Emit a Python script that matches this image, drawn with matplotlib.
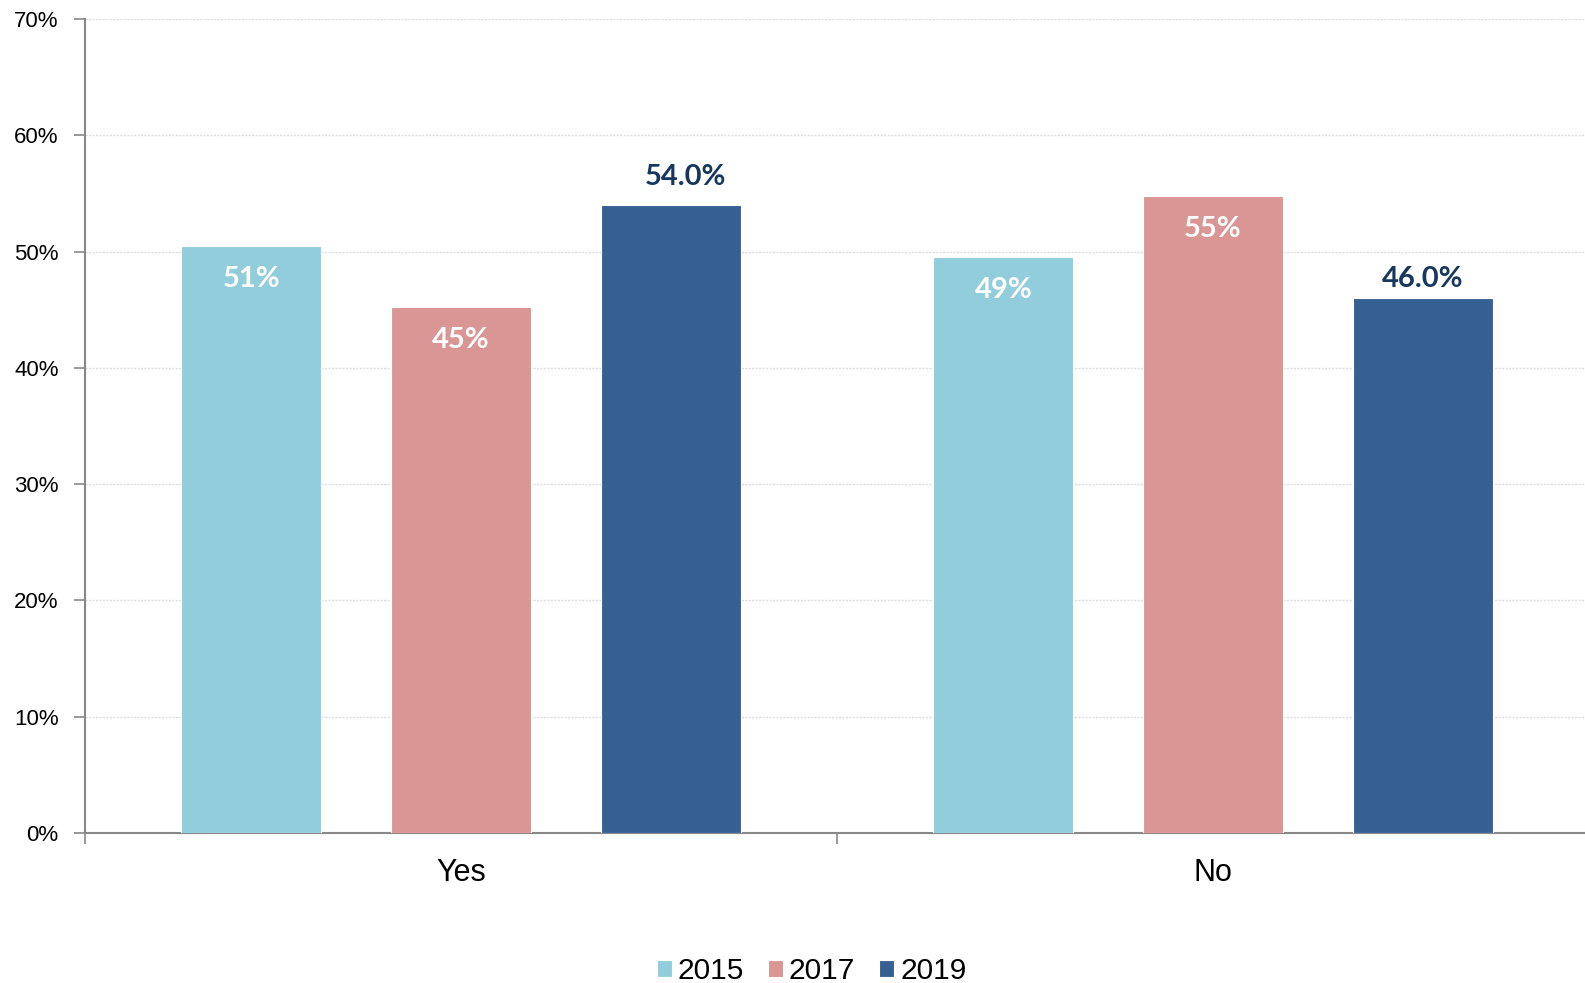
import numpy as np
import matplotlib
matplotlib.use('Agg')
import matplotlib.pyplot as plt
from matplotlib.ticker import PercentFormatter

# 数据
categories = ['Yes', 'No']
years = ['2015', '2017', '2019']
v2015 = [50.5, 49.5]
v2017 = [45.2, 54.8]
v2019 = [54.0, 46.0]
labels2015 = ['51%', '49%']
labels2017 = ['45%', '55%']
labels2019 = ['54.0%', '46.0%']

colors = ['#92CDDC', '#DA9694', '#366092']

plt.rcParams['font.family'] = ['Liberation Sans', 'DejaVu Sans']

fig = plt.figure(figsize=(15.85, 9.83), dpi=100)
ax = fig.add_axes([85 / 1585, 1 - 833 / 983, 1504 / 1585, (833 - 19) / 983])

x = np.arange(len(categories))
w = 0.186
step = 0.2787
series = [v2015, v2017, v2019]
texts = [labels2015, labels2017, labels2019]
# 2019 标签偏移（像素）
off2019 = [(15, 28), (0, 19)]
for i, (vals, labs) in enumerate(zip(series, texts)):
    pos = x + (i - 1) * step
    bars = ax.bar(pos, vals, width=w, color=colors[i], edgecolor='white',
                  linewidth=0.8, label=years[i], zorder=3)
    for j, (b, lab) in enumerate(zip(bars, labs)):
        cx = b.get_x() + b.get_width() / 2
        h = b.get_height()
        if i == 2:
            ax.annotate(lab, (cx, h), xytext=off2019[j], textcoords='offset pixels',
                        ha='center', va='center', fontsize=21, fontweight='bold',
                        color='#17375E', family='Lato')
        else:
            ax.annotate(lab, (cx, h), xytext=(0, -33), textcoords='offset pixels',
                        ha='center', va='center', fontsize=21, fontweight='bold',
                        color='white', family='Lato', zorder=4)

ax.set_xlim(-0.5, 1.5)
ax.set_ylim(0, 70)
ax.set_yticks(np.arange(0, 71, 10))
ax.yaxis.set_major_formatter(PercentFormatter(decimals=0))
ax.grid(axis='y', color='#dcdcdc', linestyle=(0, (1.5, 1)), linewidth=1, zorder=0)

ax.set_xticks(x)
ax.set_xticklabels(categories, fontsize=22)
ax.set_xticks([-0.5, 0.5, 1.5], minor=True)
ax.tick_params(axis='x', which='major', length=0, pad=18)
ax.tick_params(axis='x', which='minor', length=8, width=1.2, color='#888888', direction='out')
ax.tick_params(axis='y', length=8, width=1.2, color='#888888', labelsize=16, pad=11)

for s in ['top', 'right']:
    ax.spines[s].set_visible(False)
for s in ['left', 'bottom']:
    ax.spines[s].set_color('#888888')
    ax.spines[s].set_linewidth(1.5)

fig.legend(loc='center', bbox_to_anchor=(0.512, 0.012), ncol=3, frameon=False,
           fontsize=21.5, handlelength=0.5, handleheight=0.5, handletextpad=0.2,
           columnspacing=0.8)

fig.savefig('out.png', dpi=100)
